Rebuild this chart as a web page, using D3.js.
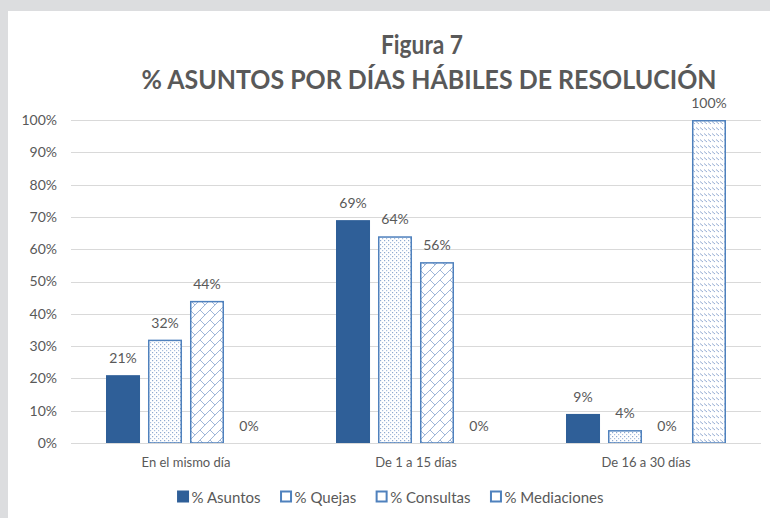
<!DOCTYPE html>
<html>
<head>
<meta charset="utf-8">
<script src="https://cdn.jsdelivr.net/npm/d3@7"></script>
<style>
  html, body { margin: 0; padding: 0; background: #dcdddf; }
  svg { display: block; }
  text { font-family: Lato, "Open Sans", sans-serif; }
</style>
</head>
<body>
<script>
const categories = ["En el mismo día", "De 1 a 15 días", "De 16 a 30 días"];
const seriesNames = ["% Asuntos", "% Quejas", "% Consultas", "% Mediaciones"];
const asuntos = [21, 69, 9];
const quejas = [32, 64, 4];
const consultas = [44, 56, 0];
const mediaciones = [0, 0, 100];
const yTickValues = [0, 10, 20, 30, 40, 50, 60, 70, 80, 90, 100];
const titleLine1 = "Figura 7";
const titleLine2 = "% ASUNTOS POR DÍAS HÁBILES DE RESOLUCIÓN";

const seriesValues = [asuntos, quejas, consultas, mediaciones];
const fills = ["#2f5f98", "url(#patQ)", "url(#patC)", "url(#patM)"];
const strokes = ["#2f5f98", "#4f81bd", "#4f81bd", "#4f81bd"];

const W = 770, H = 518;
const svg = d3.select("body").append("svg").attr("width", W).attr("height", H);

// patterns
const defs = svg.append("defs");
const pq = defs.append("pattern").attr("id", "patQ").attr("patternUnits", "userSpaceOnUse")
  .attr("width", 4).attr("height", 4);
pq.append("rect").attr("width", 4).attr("height", 4).attr("fill", "#fff");
pq.append("rect").attr("x", 0).attr("y", 0).attr("width", 1.2).attr("height", 1.2).attr("fill", "#8ea9d0");
pq.append("rect").attr("x", 2).attr("y", 2).attr("width", 1.2).attr("height", 1.2).attr("fill", "#a9bedd");

const pc = defs.append("pattern").attr("id", "patC").attr("patternUnits", "userSpaceOnUse")
  .attr("width", 10).attr("height", 10);
pc.append("rect").attr("width", 10).attr("height", 10).attr("fill", "#fff");
pc.append("path").attr("d", "M-1,11 L11,-1 M0,0 L5,5 M-1,9 L1,11 M9,-1 L11,1")
  .attr("stroke", "#9fb6d8").attr("stroke-width", 1).attr("fill", "none");

const pm = defs.append("pattern").attr("id", "patM").attr("patternUnits", "userSpaceOnUse")
  .attr("width", 4).attr("height", 6);
pm.append("rect").attr("width", 4).attr("height", 6).attr("fill", "#fff");
pm.append("path").attr("d", "M0,1.5 L3,4").attr("stroke", "#97aed3").attr("stroke-width", 1);

// white panel
svg.append("rect").attr("x", 8).attr("y", 11).attr("width", W - 8).attr("height", H - 11).attr("fill", "#ffffff");

const textColor = "#595959";

// scales
const y = d3.scaleLinear().domain([0, 100]).range([443, 120]);
const x0 = d3.scaleBand().domain(categories).range([71, 761]).padding(0);
const x1 = d3.scaleBand().domain(seriesNames).range([35, 195]).paddingInner(0.19).paddingOuter(0);

// gridlines
svg.append("g").selectAll("line").data(yTickValues).join("line")
  .attr("x1", 71).attr("x2", 761)
  .attr("y1", d => Math.round(y(d)) + 0.5).attr("y2", d => Math.round(y(d)) + 0.5)
  .attr("stroke", "#d9d9d9").attr("stroke-width", 1);

// y axis labels
const yAxis = d3.axisLeft(y).tickValues(yTickValues).tickFormat(d => d + "%").tickSize(0).tickPadding(0);
const gy = svg.append("g").attr("transform", "translate(57,0)").call(yAxis);
gy.select(".domain").remove();
gy.selectAll("text").attr("font-family", "Lato").attr("font-size", 14).attr("fill", textColor);

// x axis labels
const xAxis = d3.axisBottom(x0).tickSize(0).tickPadding(0);
const gx = svg.append("g").attr("transform", "translate(0,458)").call(xAxis);
gx.select(".domain").remove();
gx.selectAll("text").attr("font-family", "Lato").attr("font-size", 13).attr("fill", textColor);

// bars
const barData = [];
seriesNames.forEach((s, si) => {
  categories.forEach((c, ci) => {
    barData.push({ s, si, c, v: seriesValues[si][ci] });
  });
});

const gBars = svg.append("g");
gBars.selectAll("rect").data(barData.filter(d => d.v > 0)).join("rect")
  .attr("x", d => x0(d.c) + x1(d.s) + 0.75)
  .attr("width", x1.bandwidth() - 1.5)
  .attr("y", d => y(d.v) + 0.75)
  .attr("height", d => y(0) - y(d.v) - 0.75)
  .attr("fill", d => fills[d.si])
  .attr("stroke", d => strokes[d.si])
  .attr("stroke-width", 1.5);

// baseline
svg.append("line").attr("x1", 71).attr("x2", 761).attr("y1", 443.5).attr("y2", 443.5)
  .attr("stroke", "#d9d9d9");

// data labels
svg.append("g").selectAll("text").data(barData).join("text")
  .attr("x", d => x0(d.c) + x1(d.s) + x1.bandwidth() / 2)
  .attr("y", d => y(d.v) - 12)
  .attr("text-anchor", "middle")
  .attr("font-size", 14).attr("fill", textColor)
  .text(d => d.v + "%");

// title
svg.append("text").attr("x", 422).attr("y", 54).attr("text-anchor", "middle")
  .attr("font-weight", "bold").attr("font-size", 27).attr("fill", textColor)
  .attr("textLength", 82).attr("lengthAdjust", "spacingAndGlyphs").text(titleLine1);
svg.append("text").attr("x", 429).attr("y", 89).attr("text-anchor", "middle")
  .attr("font-weight", "bold").attr("font-size", 26).attr("fill", textColor)
  .attr("textLength", 575).attr("lengthAdjust", "spacingAndGlyphs").text(titleLine2);

// legend
const legend = svg.append("g");
const items = legend.selectAll("g").data(seriesNames).join("g");
items.append("rect")
  .attr("x", 0.5).attr("y", -5.5).attr("width", 10).attr("height", 10)
  .attr("fill", (d, i) => i === 0 ? fills[0] : "#fff")
  .attr("stroke", (d, i) => strokes[i]).attr("stroke-width", 2);
items.append("text").attr("x", 14).attr("y", 5.5).attr("font-size", 15).attr("fill", textColor).text(d => d);
let widths = [];
items.each(function () { widths.push(this.querySelector("text").getComputedTextLength() + 14); });
const gap = 20;
const total = d3.sum(widths) + gap * (widths.length - 1);
let cx = 390.5 - total / 2;
items.attr("transform", (d, i) => {
  const tx = cx; cx += widths[i] + gap;
  return `translate(${tx},497)`;
});
</script>
</body>
</html>
